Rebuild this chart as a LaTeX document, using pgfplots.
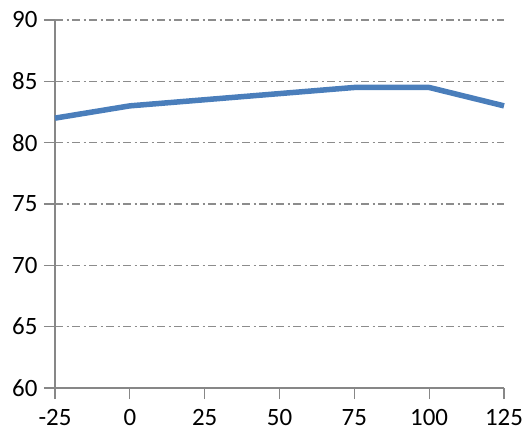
\documentclass[border=0pt]{standalone}
\usepackage{fontspec}
\setmainfont{Carlito}
\usepackage{pgfplots}
\pgfplotsset{compat=1.18}

\definecolor{lineblue}{HTML}{4A7EBB}
\definecolor{axisgray}{HTML}{878787}
\definecolor{gridgray}{HTML}{8C8C8C}

\begin{document}
\begin{tikzpicture}
\begin{axis}[
    scale only axis,
    width=449bp, height=368bp,
    xmin=-25, xmax=125, ymin=60, ymax=90,
    xtick={-25,0,25,50,75,100,125},
    xticklabels={-25,0,25,50,75,100,125},
    ytick={60,65,70,75,80,85,90},
    yticklabels={60,65,70,75,80,85,90},
    axis x line*=bottom, axis y line*=left,
    axis line style={axisgray, line width=1.3bp, -},
    tick style={axisgray, line width=1.3bp},
    tick align=outside, major tick length=11bp,
    ymajorgrids,
    grid style={gridgray, line width=1.3bp, dash pattern=on 8bp off 3.5bp on 2bp off 3.5bp},
    tick label style={font=\fontsize{25}{25}\selectfont, black},
    yticklabel style={xshift=-3bp},
    xticklabel style={yshift=-9bp, inner sep=1bp},
    clip=false,
]
\addplot[lineblue, line width=5.5bp, line join=round] coordinates {
    (-25, 82) (0, 83) (25, 83.5) (50, 84) (75, 84.5) (100, 84.5) (125, 83)
};
\end{axis}
\pgfresetboundingbox
\path (-55bp,-46bp) rectangle (474bp,388bp);
\end{tikzpicture}
\end{document}
